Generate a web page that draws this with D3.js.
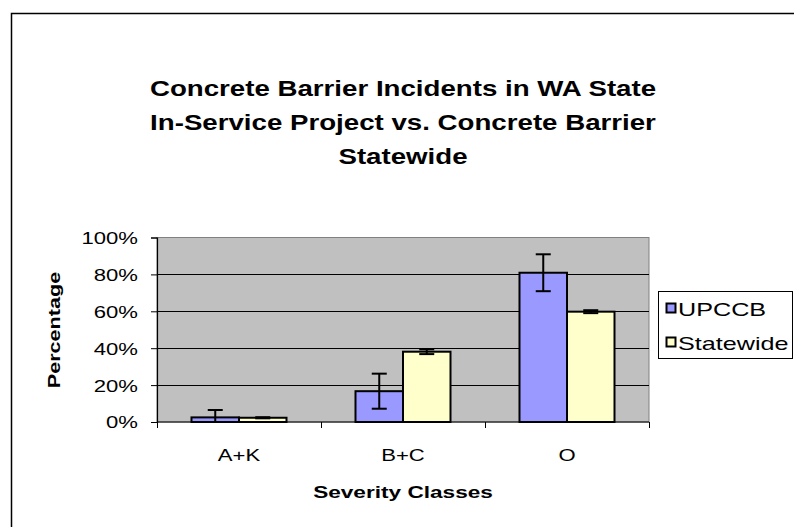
<!DOCTYPE html>
<html>
<head>
<meta charset="utf-8">
<script src="https://cdn.jsdelivr.net/npm/d3@7"></script>
<style>
  html, body { margin: 0; padding: 0; background: #fff; }
  svg { display: block; font-family: Arial, "Liberation Sans", sans-serif; }
</style>
</head>
<body>
<svg id="chart" width="794" height="527"></svg>
<script>
const titleLines = ["Concrete Barrier Incidents in WA State", "In-Service Project vs. Concrete Barrier", "Statewide"];
const categories = ["A+K", "B+C", "O"];
const seriesNames = ["UPCCB", "Statewide"];
const upccbValues = [2.5, 16.7, 80.9];
const upccbErrors = [4.0, 9.5, 10.0];
const statewideValues = [2.3, 38.1, 59.8];
const statewideErrors = [0.3, 1.3, 0.8];
const yTicks = [0, 20, 40, 60, 80, 100];
const colors = ["#9999FF", "#FFFFCC"];
const xTitle = "Severity Classes";
const yTitle = "Percentage";

const seriesData = [
  { name: seriesNames[0], values: upccbValues, errors: upccbErrors, color: colors[0] },
  { name: seriesNames[1], values: statewideValues, errors: statewideErrors, color: colors[1] }
];

const svg = d3.select("#chart");

// outer chart border
svg.append("rect").attr("x", 11.5).attr("y", 13.5).attr("width", 800).attr("height", 600)
  .attr("fill", "#fff").attr("stroke", "#000").attr("stroke-width", 1.5);

const plot = { left: 157, right: 649, top: 237.5, bottom: 422 };

const x0 = d3.scaleBand().domain(categories).range([plot.left, plot.right]).padding(0);
const x1 = d3.scaleBand().domain(seriesNames).range([0, x0.bandwidth()]).paddingInner(0).paddingOuter(0.7263);
const y = d3.scaleLinear().domain([0, 100]).range([plot.bottom, plot.top]);

// plot area background
svg.append("rect").attr("x", plot.left).attr("y", plot.top)
  .attr("width", plot.right - plot.left).attr("height", plot.bottom - plot.top)
  .attr("fill", "#C0C0C0").attr("stroke", "#808080").attr("stroke-width", 1);

// gridlines
svg.append("g").selectAll("line").data(yTicks.filter(d => d > 0 && d < 100)).join("line")
  .attr("x1", plot.left).attr("x2", plot.right)
  .attr("y1", d => Math.round(y(d)) + 0.5).attr("y2", d => Math.round(y(d)) + 0.5)
  .attr("stroke", "#000").attr("stroke-width", 1);

// y axis
const yAxis = svg.append("g").attr("transform", `translate(${plot.left},0)`)
  .call(d3.axisLeft(y).tickValues(yTicks).tickFormat(d => d + "%").tickSizeOuter(0).tickSize(6));
yAxis.select(".domain").attr("stroke", "#000").attr("stroke-width", 1.2);
yAxis.selectAll(".tick line").attr("stroke", "#000");
yAxis.selectAll(".tick text")
  .attr("font-size", 17).attr("fill", "#000").attr("x", 0).attr("dy", "0.35em")
  .attr("transform", "translate(-19,0) scale(1.3,1)")
  .attr("font-family", "Arial, 'Liberation Sans', sans-serif");

// x axis
const xAxisScale = d3.scaleLinear().domain([0, 3]).range([plot.left, plot.right]);
const xAxis = svg.append("g").attr("transform", `translate(0,${plot.bottom})`);
xAxis.append("line").attr("x1", plot.left).attr("x2", plot.right).attr("y1", 0).attr("y2", 0)
  .attr("stroke", "#000").attr("stroke-width", 1.2);
xAxis.selectAll("line.tk").data([0, 1, 2, 3]).join("line").attr("class", "tk")
  .attr("x1", d => Math.round(xAxisScale(d)) + 0.5).attr("x2", d => Math.round(xAxisScale(d)) + 0.5)
  .attr("y1", 0).attr("y2", 6).attr("stroke", "#000");
xAxis.selectAll("text").data(categories).join("text")
  .attr("transform", d => `translate(${x0(d) + x0.bandwidth() / 2},39) scale(1.3,1)`)
  .attr("text-anchor", "middle").attr("font-size", 17).attr("fill", "#000").text(d => d);

// bars
const groups = svg.append("g").selectAll("g").data(seriesData).join("g");
groups.selectAll("rect").data(s => s.values.map((v, i) => ({ s, v, i }))).join("rect")
  .attr("x", d => x0(categories[d.i]) + x1(d.s.name))
  .attr("y", d => y(d.v))
  .attr("width", x1.bandwidth())
  .attr("height", d => y(0) - y(d.v))
  .attr("fill", d => d.s.color).attr("stroke", "#000").attr("stroke-width", 2);

// error bars
const capW = 15;
const eg = svg.append("g");
seriesData.forEach(s => {
  s.values.forEach((v, i) => {
    const cx = x0(categories[i]) + x1(s.name) + x1.bandwidth() / 2;
    const hi = y(Math.min(100, v + s.errors[i]));
    const lo = y(Math.max(0, v - s.errors[i]));
    eg.append("line").attr("x1", cx).attr("x2", cx).attr("y1", hi).attr("y2", lo)
      .attr("stroke", "#000").attr("stroke-width", 2);
    eg.append("line").attr("x1", cx - capW / 2).attr("x2", cx + capW / 2).attr("y1", hi).attr("y2", hi)
      .attr("stroke", "#000").attr("stroke-width", 2);
    if (v - s.errors[i] > 0) {
      eg.append("line").attr("x1", cx - capW / 2).attr("x2", cx + capW / 2).attr("y1", lo).attr("y2", lo)
        .attr("stroke", "#000").attr("stroke-width", 2);
    }
  });
});

// title
svg.append("g").selectAll("text").data(titleLines).join("text")
  .attr("transform", (d, i) => `translate(403,${96 + i * 34}) scale(1.258,1)`)
  .attr("text-anchor", "middle").attr("font-size", 22).attr("font-weight", "bold").attr("fill", "#000")
  .text(d => d);

// axis titles
svg.append("text").attr("transform", "translate(403,498) scale(1.33,1)")
  .attr("text-anchor", "middle").attr("font-size", 17).attr("font-weight", "bold").text(xTitle);
svg.append("text").attr("transform", "translate(60,330) rotate(-90) scale(1.27,1)")
  .attr("text-anchor", "middle").attr("font-size", 17).attr("font-weight", "bold").text(yTitle);

// legend
const lg = svg.append("g");
lg.append("rect").attr("x", 658.5).attr("y", 291.5).attr("width", 134).attr("height", 67)
  .attr("fill", "#fff").attr("stroke", "#000").attr("stroke-width", 1);
seriesData.forEach((s, i) => {
  const yy = 303 + i * 34;
  lg.append("rect").attr("x", 666.5).attr("y", yy + 0.5).attr("width", 9).attr("height", 9)
    .attr("fill", s.color).attr("stroke", "#000").attr("stroke-width", 2);
  lg.append("text").attr("transform", `translate(678,${yy + 13}) scale(1.4,1)`)
    .attr("font-size", 18).attr("fill", "#000").text(s.name);
});
</script>
</body>
</html>
